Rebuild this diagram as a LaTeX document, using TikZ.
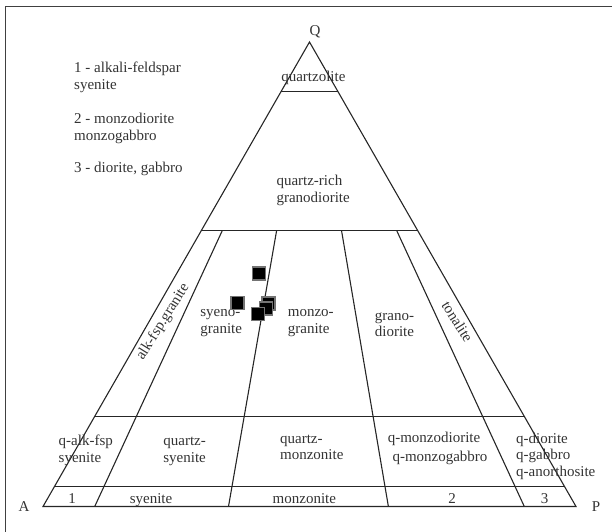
\documentclass[tikz,border=0pt]{standalone}
\usepackage{fontspec}
\setmainfont{Liberation Serif}
\usetikzlibrary{calc}
\begin{document}
\begin{tikzpicture}[x=1pt,y=-1pt,
  lbl/.style={inner sep=0pt, text=black!80, font=\fontsize{15}{17}\selectfont},
  lft/.style={lbl, anchor=base west},
  ctr/.style={lbl, anchor=base},
  edge/.style={draw=black!85, line width=1.1pt, line join=miter},
  frame/.style={draw=black!75, line width=1.4pt},
  sample/.style={rectangle, fill=black, draw=black!55, line width=1.1pt, minimum size=13pt, inner sep=0pt}]
\useasboundingbox (0,0) rectangle (612,531);
% frame (only left and top sides are inside the picture)
\coordinate (FB) at (5.5,545);
\coordinate (FC) at (5.5,6.5);
\coordinate (FR) at (625,6.5);
\draw[frame] (FB) -- (FC) -- (FR);
% triangle
\coordinate (Q) at (309.5,42);
\coordinate (A) at (43,506.5);
\coordinate (P) at (576,506.5);
\draw[edge] (A) -- (Q) -- (P) -- cycle;
% horizontal lines
\coordinate (h90L) at ($(Q)!0.1063!(A)$); \coordinate (h90R) at ($(Q)!0.1063!(P)$);
\coordinate (h60L) at ($(Q)!0.406!(A)$);  \coordinate (h60R) at ($(Q)!0.406!(P)$);
\coordinate (h20L) at ($(Q)!0.806!(A)$);  \coordinate (h20R) at ($(Q)!0.806!(P)$);
\coordinate (h5L)  at ($(Q)!0.956!(A)$);  \coordinate (h5R)  at ($(Q)!0.956!(P)$);
\draw[edge] (h90L) -- (h90R);
\draw[edge] (h60L) -- (h60R);
\draw[edge] (h20L) -- (h20R);
\draw[edge] (h5L) -- (h5R);
% ratio lines
\coordinate (B10) at ($(A)!0.097!(P)$);
\coordinate (B35) at ($(A)!0.348!(P)$);
\coordinate (B65) at ($(A)!0.648!(P)$);
\coordinate (B90) at ($(A)!0.903!(P)$);
\coordinate (T10) at ($(Q)!0.406!(B10)$);
\coordinate (T35) at ($(Q)!0.406!(B35)$);
\coordinate (T65) at ($(Q)!0.406!(B65)$);
\coordinate (T90) at ($(Q)!0.406!(B90)$);
\draw[edge] (T10) -- (B10);
\draw[edge] (T35) -- (B35);
\draw[edge] (T65) -- (B65);
\draw[edge] (T90) -- (B90);
% vertex labels
\node[lbl] (lQ) at (315,32) {Q};
\node[lbl] (lA) at (24,507) {A};
\node[lbl] (lP) at (596,507) {P};
% legend
\node[lft] (leg1a) at (74,72.5) {1 - alkali-feldspar};
\node[lft] (leg1b) at (74,89) {syenite};
\node[lft] (leg2a) at (74,123) {2 - monzodiorite};
\node[lft] (leg2b) at (74,140) {monzogabbro};
\node[lft] (leg3)  at (74,172) {3 - diorite, gabbro};
% field labels
\node[ctr] (qz) at (313.4,81) {quartzolite};
\node[lft] (qr1) at (276.3,185) {quartz-rich};
\node[lft] (qr2) at (276.3,202) {granodiorite};
\node[lbl, rotate=58] (afg) at (163,322) {alk-fsp.granite};
\node[lft] (sy1) at (200.2,316) {syeno-};
\node[lft] (sy2) at (200.2,333) {granite};
\node[lft] (mz1) at (287.7,316) {monzo-};
\node[lft] (mz2) at (287.7,333) {granite};
\node[lft] (gd1) at (374.7,320) {grano-};
\node[lft] (gd2) at (374.7,336) {diorite};
\node[lbl, rotate=-58] (ton) at (457.5,321.7) {tonalite};
\node[lft] (qa1) at (58.5,445) {q-alk-fsp};
\node[lft] (qa2) at (58.5,462) {syenite};
\node[lft] (qs1) at (163.2,445) {quartz-};
\node[lft] (qs2) at (163.2,462) {syenite};
\node[lft] (qm1) at (279.9,443) {quartz-};
\node[lft] (qm2) at (279.9,459) {monzonite};
\node[lft] (qd1) at (387.6,442.5) {q-monzodiorite};
\node[lft] (qd2) at (392.3,461) {q-monzogabbro};
\node[lft] (qg1) at (516,443) {q-diorite};
\node[lft] (qg2) at (516,459.5) {q-gabbro};
\node[lft] (qg3) at (516,476) {q-anorthosite};
\node[ctr] (b1) at (72.2,503) {1};
\node[ctr] (b2) at (151,503) {syenite};
\node[ctr] (b3) at (304.4,503) {monzonite};
\node[ctr] (b4) at (452,503) {2};
\node[ctr] (b5) at (544.5,503) {3};
% samples
\node[sample] (s1) at (258.8,273.5) {};
\node[sample] (s2) at (237.5,303) {};
\node[sample] (s3) at (268.5,303.5) {};
\node[sample] (s4) at (266,308.5) {};
\node[sample] (s5) at (258.3,313.7) {};
\end{tikzpicture}
\end{document}
